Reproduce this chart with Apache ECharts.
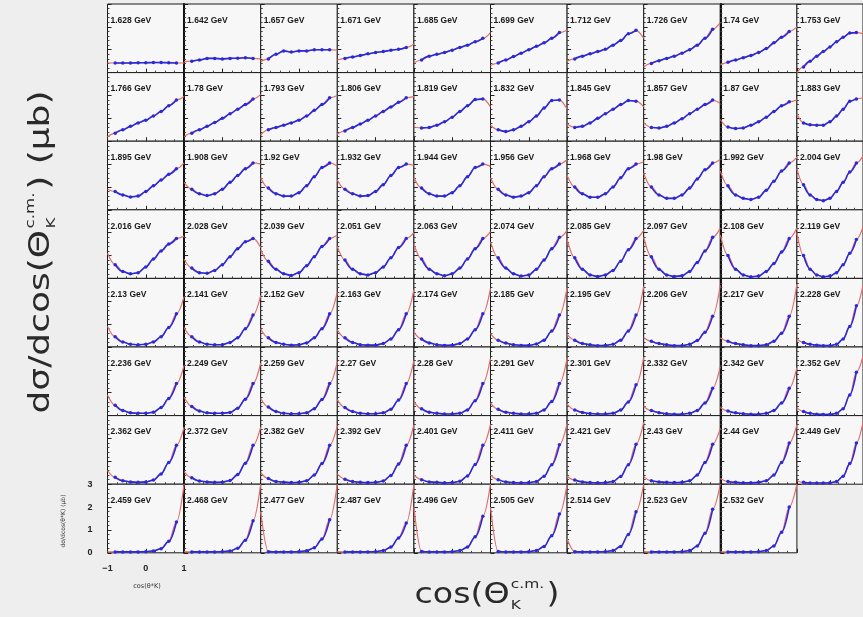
<!DOCTYPE html>
<html><head><meta charset="utf-8">
<script src="https://cdn.jsdelivr.net/npm/echarts@6/dist/echarts.min.js"></script>
<style>html,body{margin:0;padding:0;background:#eeeeee}#c{width:863px;height:617px}</style>
</head><body><div id="c"></div>
<script>
// ---------- DATA ----------
const cosTheta = [-1,-0.8,-0.6,-0.4,-0.2,0,0.2,0.4,0.6,0.8,1];
const yTicks = [0,1,2,3];
const xTickLabels = ['−1','0','1'];

const energies1 = ['1.628','1.642','1.657','1.671','1.685','1.699','1.712','1.726','1.74','1.753'];
const energies2 = ['1.766','1.78','1.793','1.806','1.819','1.832','1.845','1.857','1.87','1.883'];
const energies3 = ['1.895','1.908','1.92','1.932','1.944','1.956','1.968','1.98','1.992','2.004'];
const energies4 = ['2.016','2.028','2.039','2.051','2.063','2.074','2.085','2.097','2.108','2.119'];
const energies5 = ['2.13','2.141','2.152','2.163','2.174','2.185','2.195','2.206','2.217','2.228'];
const energies6 = ['2.236','2.249','2.259','2.27','2.28','2.291','2.301','2.332','2.342','2.352'];
const energies7 = ['2.362','2.372','2.382','2.392','2.401','2.411','2.421','2.43','2.44','2.449'];
const energies8 = ['2.459','2.468','2.477','2.487','2.496','2.505','2.514','2.523','2.532'];

const row1 = [
  [0.42,0.42,0.42,0.42,0.43,0.43,0.44,0.44,0.43,0.42,0.42],
  [0.48,0.5,0.55,0.62,0.62,0.6,0.62,0.63,0.65,0.62,0.6],
  [0.48,0.6,0.8,0.95,0.9,0.95,0.95,1.0,1.0,1.0,0.98],
  [0.55,0.62,0.68,0.75,0.82,0.88,0.92,0.98,1.02,1.1,1.25],
  [0.42,0.55,0.72,0.8,0.88,0.98,1.1,1.2,1.35,1.5,1.75],
  [0.3,0.42,0.55,0.7,0.85,1.0,1.15,1.3,1.5,1.75,1.85],
  [0.5,0.6,0.72,0.82,0.92,1.02,1.2,1.4,1.7,1.85,1.5],
  [0.25,0.4,0.52,0.62,0.72,0.85,1.0,1.2,1.5,1.9,2.2],
  [0.33,0.45,0.55,0.65,0.75,0.88,1.05,1.3,1.55,1.8,2.0],
  [0.0,0.25,0.5,0.72,0.92,1.12,1.35,1.55,1.73,1.75,1.7]
];
const row2 = [
  [0.19,0.35,0.5,0.65,0.8,0.92,1.1,1.3,1.55,1.8,1.95],
  [0.2,0.35,0.5,0.65,0.82,1.0,1.2,1.4,1.6,1.85,2.05],
  [0.27,0.5,0.6,0.7,0.8,0.92,1.1,1.35,1.6,1.9,2.0],
  [0.3,0.45,0.6,0.75,0.92,1.1,1.3,1.5,1.7,1.9,1.95],
  [0.62,0.58,0.6,0.7,0.85,1.05,1.3,1.55,1.82,1.85,1.5],
  [0.7,0.5,0.42,0.5,0.65,0.85,1.1,1.45,1.78,1.8,1.4],
  [0.75,0.6,0.65,0.8,1.0,1.2,1.4,1.6,1.78,1.75,1.5],
  [0.8,0.6,0.58,0.65,0.8,0.98,1.2,1.4,1.6,1.8,1.65],
  [0.95,0.62,0.55,0.58,0.7,0.85,1.05,1.3,1.55,1.72,1.8],
  [1.2,0.8,0.72,0.7,0.7,0.85,1.1,1.4,1.75,1.85,1.9]
];
const row3 = [
  [0.9,0.8,0.65,0.56,0.6,0.8,1.05,1.3,1.55,1.8,2.05],
  [1.2,0.9,0.7,0.62,0.7,0.9,1.2,1.5,1.8,2.05,2.0],
  [1.4,0.95,0.7,0.6,0.6,0.75,1.05,1.45,1.85,2.05,1.9],
  [1.3,0.9,0.7,0.6,0.62,0.8,1.1,1.5,1.85,2.0,1.95],
  [1.4,0.95,0.7,0.6,0.6,0.75,1.05,1.45,1.85,2.0,1.9],
  [1.4,0.9,0.65,0.55,0.6,0.75,1.05,1.45,1.8,2.0,2.2],
  [1.5,1.0,0.7,0.55,0.55,0.7,1.0,1.4,1.8,2.0,2.1],
  [1.6,1.0,0.65,0.5,0.5,0.65,0.95,1.35,1.75,2.05,2.2],
  [1.7,1.05,0.65,0.5,0.45,0.55,0.85,1.25,1.7,2.05,2.3],
  [1.8,1.1,0.65,0.45,0.4,0.5,0.8,1.2,1.65,2.05,2.35]
];
const row4 = [
  [1.1,0.6,0.3,0.2,0.25,0.5,0.85,1.2,1.5,1.75,1.85],
  [0.85,0.45,0.25,0.22,0.35,0.6,0.95,1.3,1.6,1.75,1.35],
  [1.25,0.75,0.4,0.2,0.13,0.25,0.55,0.95,1.4,1.75,1.9],
  [1.4,0.8,0.4,0.2,0.15,0.25,0.5,0.9,1.35,1.75,2.0],
  [1.5,0.85,0.4,0.2,0.12,0.2,0.45,0.85,1.3,1.75,2.05],
  [1.6,0.9,0.45,0.2,0.1,0.15,0.4,0.8,1.3,1.8,2.1],
  [1.7,0.9,0.4,0.15,0.08,0.15,0.35,0.75,1.25,1.75,2.1],
  [1.8,0.95,0.4,0.15,0.08,0.12,0.3,0.7,1.2,1.8,2.2],
  [1.9,1.0,0.4,0.15,0.07,0.1,0.3,0.65,1.15,1.75,2.2],
  [2.0,1.0,0.4,0.15,0.07,0.1,0.25,0.6,1.1,1.7,2.25]
];
const row5 = [
  [0.9,0.45,0.22,0.12,0.1,0.12,0.22,0.45,0.85,1.45,2.2],
  [0.85,0.45,0.22,0.12,0.1,0.1,0.2,0.4,0.8,1.4,2.25],
  [0.8,0.4,0.2,0.12,0.08,0.1,0.18,0.4,0.8,1.45,2.4],
  [0.75,0.4,0.2,0.1,0.08,0.08,0.15,0.35,0.75,1.45,2.5],
  [0.65,0.35,0.18,0.1,0.07,0.08,0.15,0.35,0.75,1.45,2.55],
  [0.6,0.3,0.17,0.1,0.07,0.07,0.13,0.3,0.7,1.4,2.6],
  [0.55,0.3,0.15,0.1,0.06,0.07,0.12,0.3,0.7,1.4,2.65],
  [0.4,0.25,0.15,0.1,0.06,0.06,0.12,0.28,0.65,1.35,2.7],
  [0.4,0.25,0.15,0.1,0.06,0.06,0.1,0.25,0.6,1.35,2.75],
  [0.35,0.2,0.12,0.08,0.06,0.06,0.12,0.35,0.9,1.8,2.7]
];
const row6 = [
  [0.9,0.45,0.22,0.12,0.1,0.1,0.15,0.35,0.75,1.4,2.2],
  [0.8,0.4,0.2,0.12,0.1,0.1,0.14,0.32,0.72,1.4,2.3],
  [0.75,0.38,0.18,0.1,0.08,0.08,0.12,0.3,0.7,1.4,2.35],
  [0.7,0.35,0.18,0.1,0.08,0.08,0.12,0.28,0.68,1.4,2.4],
  [0.6,0.3,0.15,0.1,0.07,0.07,0.1,0.25,0.65,1.4,2.5],
  [0.55,0.28,0.15,0.1,0.07,0.07,0.1,0.25,0.62,1.4,2.5],
  [0.5,0.25,0.14,0.09,0.07,0.07,0.1,0.24,0.6,1.35,2.55],
  [0.4,0.22,0.13,0.08,0.06,0.06,0.1,0.22,0.55,1.2,2.15],
  [0.35,0.2,0.12,0.08,0.06,0.06,0.1,0.22,0.55,1.2,2.1],
  [0.35,0.18,0.1,0.06,0.05,0.05,0.1,0.3,0.9,1.9,2.6]
];
const row7 = [
  [0.6,0.3,0.15,0.1,0.08,0.1,0.18,0.45,0.95,1.7,2.5],
  [0.55,0.28,0.14,0.1,0.08,0.09,0.16,0.42,0.92,1.7,2.5],
  [0.5,0.25,0.12,0.09,0.07,0.08,0.15,0.4,0.9,1.7,2.55],
  [0.45,0.22,0.12,0.08,0.07,0.08,0.14,0.38,0.88,1.7,2.6],
  [0.4,0.2,0.1,0.08,0.06,0.07,0.13,0.36,0.86,1.7,2.6],
  [0.4,0.2,0.1,0.07,0.06,0.07,0.12,0.35,0.85,1.72,2.65],
  [0.35,0.18,0.1,0.07,0.06,0.07,0.12,0.34,0.85,1.75,2.7],
  [0.33,0.15,0.1,0.08,0.07,0.08,0.15,0.4,0.95,1.75,2.45],
  [0.25,0.12,0.08,0.06,0.06,0.08,0.15,0.4,0.95,1.8,2.6],
  [0.15,0.08,0.05,0.05,0.05,0.06,0.12,0.35,0.9,1.8,2.7]
];
const row8 = [
  [0.04,0.04,0.04,0.04,0.04,0.05,0.08,0.18,0.5,1.35,3.0],
  [0.05,0.04,0.04,0.04,0.04,0.05,0.08,0.2,0.55,1.4,3.0],
  [1.8,0.05,0.04,0.04,0.04,0.05,0.09,0.22,0.6,1.45,3.0],
  [0.05,0.04,0.04,0.04,0.04,0.05,0.1,0.25,0.65,1.3,3.0],
  [2.0,0.06,0.04,0.04,0.04,0.05,0.1,0.25,0.7,1.6,3.0],
  [2.0,0.06,0.04,0.04,0.04,0.05,0.1,0.28,0.75,1.7,3.0],
  [0.6,0.05,0.04,0.04,0.04,0.05,0.1,0.28,0.8,1.8,3.0],
  [0.05,0.04,0.04,0.04,0.04,0.05,0.1,0.3,0.85,1.9,3.0],
  [0.04,0.04,0.04,0.04,0.04,0.05,0.1,0.3,0.9,2.0,3.0]
];

const energyRows = [energies1,energies2,energies3,energies4,energies5,energies6,energies7,energies8];
const valueRows = [row1,row2,row3,row4,row5,row6,row7,row8];

// ---------- LAYOUT ----------
const L0 = 107.5, T0 = 4, PW = 76.6, PH = 68.6;
const RED = '#e46a6a', BLUE = '#2b2bd6';

const grids = [], xAxes = [], yAxes = [], series = [], graphic = [];
let gi = 0;
const lastRow = valueRows.length - 1;
valueRows.forEach((row, r) => {
  row.forEach((vals, c) => {
    const left = L0 + c * PW, top = T0 + r * PH;
    const isCorner = (r === lastRow && c === 0);
    grids.push({left: left, top: top, width: PW, height: PH, show: true,
      backgroundColor: '#f7f7f7', borderColor: '#1a1a1a', borderWidth: 1});
    xAxes.push({gridIndex: gi, type: 'value', min: -1, max: 1, interval: 1,
      axisLine: {show: false, onZero: false}, splitLine: {show: false},
      axisTick: {show: true, inside: true, length: 4, lineStyle: {color: '#222'}},
      minorTick: {show: true, splitNumber: 4, length: 2, lineStyle: {color: '#444'}},
      axisLabel: {show: isCorner, margin: 11, fontSize: 9, fontWeight: 'bold', color: '#222',
        fontFamily: 'Liberation Sans',
        formatter: v => (v === -1 ? xTickLabels[0] : v === 0 ? xTickLabels[1] : xTickLabels[2])}
    });
    const thick = (c === 1 || c === 8);
    yAxes.push({gridIndex: gi, type: 'value', min: 0, max: 3, interval: 1,
      axisLine: {show: thick, onZero: false, lineStyle: {color: '#111', width: 2}}, splitLine: {show: false},
      axisTick: {show: true, inside: true, length: 4, lineStyle: {color: '#222'}},
      minorTick: {show: true, splitNumber: 5, length: 2, lineStyle: {color: '#444'}},
      axisLabel: {show: isCorner, margin: 15, fontSize: 9, fontWeight: 'bold', color: '#222',
        fontFamily: 'Liberation Sans', formatter: v => String(yTicks[v])}
    });
    const pts = cosTheta.map((x, k) => [x, vals[k]]);
    series.push({type: 'line', xAxisIndex: gi, yAxisIndex: gi, data: pts, smooth: 0.35,
      smoothMonotone: 'x', showSymbol: false, silent: true, animation: false, z: 2,
      lineStyle: {color: RED, width: 1.2}});
    series.push({type: 'line', xAxisIndex: gi, yAxisIndex: gi, data: pts.slice(1, 10), smooth: 0.35,
      smoothMonotone: 'x', symbol: 'circle', symbolSize: 3.5, silent: true, animation: false, z: 3,
      itemStyle: {color: BLUE}, lineStyle: {color: BLUE, width: 1.6}});
    graphic.push({type: 'text', left: left + 3, top: top + 12, z: 10,
      style: {text: energyRows[r][c] + ' GeV', font: 'bold 8.5px "Liberation Sans", Arial', fill: '#1a1a1a'}});
    gi++;
  });
});

// ---------- TITLES ----------
const ctx = document.createElement('canvas').getContext('2d');
function tw(t, f) { ctx.font = f; return ctx.measureText(t).width; }
const MF = '28px "DejaVu Sans"', SF = '13px "DejaVu Sans"';
function buildTitle(a, b, cx, cy, target, rot) {
  const w1 = tw(a, MF), ws = tw('c.m.', SF), w2 = tw(b, MF);
  const total = w1 + ws + 3 + w2;
  const x0 = -total / 2;
  const st = (t, f) => ({text: t, font: f, fill: '#2a2a2a', verticalAlign: 'middle', align: 'left'});
  return {type: 'group', x: cx, y: cy, rotation: rot, scaleX: target / total, z: 20,
    children: [
      {type: 'text', x: x0, y: 0, style: st(a, MF)},
      {type: 'text', x: x0 + w1 + 1, y: -11, style: st('c.m.', SF)},
      {type: 'text', x: x0 + w1 + 1, y: 10, style: st('K', SF)},
      {type: 'text', x: x0 + w1 + ws + 3, y: 0, style: st(b, MF)}
    ]};
}
graphic.push(buildTitle('dσ/dcos(Θ', ') (μb)', 42, 252, 323, Math.PI / 2));
graphic.push(buildTitle('cos(Θ', ')', 487, 596, 145, 0));
graphic.push({type: 'text', x: 63, y: 521, rotation: Math.PI / 2, z: 20,
  style: {text: 'dσ/dcos(θ*K) (μb)', font: '6px "DejaVu Sans"', fill: '#333', align: 'center', verticalAlign: 'middle'}});
graphic.push({type: 'text', x: 147, y: 586, z: 20,
  style: {text: 'cos(θ*K)', font: '6.5px "DejaVu Sans"', fill: '#333', align: 'center', verticalAlign: 'middle'}});

const chart = echarts.init(document.getElementById('c'), null, {renderer: 'canvas'});
chart.setOption({backgroundColor: '#eeeeee', animation: false,
  grid: grids, xAxis: xAxes, yAxis: yAxes, series: series, graphic: graphic});
</script></body></html>
